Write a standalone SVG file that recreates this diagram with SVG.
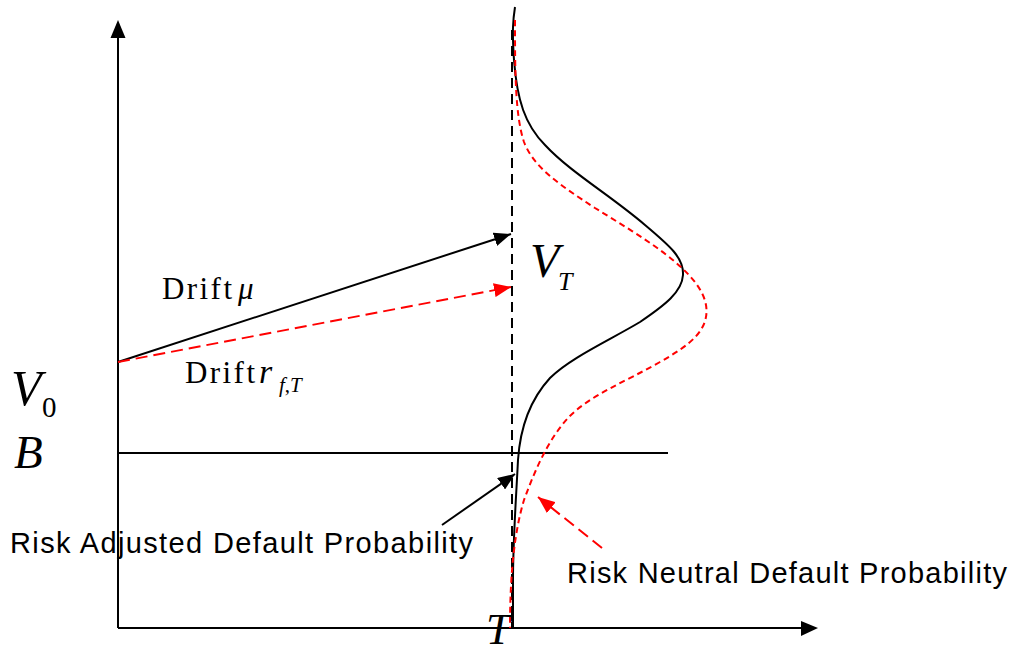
<svg xmlns="http://www.w3.org/2000/svg" width="1015" height="648" viewBox="0 0 1015 648">
<style>
.ax{stroke:#000;stroke-width:2;fill:none}
.blk{stroke:#000;stroke-width:2;fill:none}
.red{stroke:#f00;stroke-width:2;fill:none}
.serif{font-family:"Liberation Serif","Times New Roman",serif;fill:#000}
.it{font-style:italic}
.sans{font-family:"Liberation Sans",Arial,sans-serif;fill:#000}
</style>
<defs>
<marker id="ab" markerUnits="userSpaceOnUse" markerWidth="18" markerHeight="14" refX="17" refY="7" orient="auto"><path d="M0,0 L17,7 L0,14 z" fill="#000"/></marker>
<marker id="ar" markerUnits="userSpaceOnUse" markerWidth="18" markerHeight="14" refX="17" refY="7" orient="auto"><path d="M0,0 L17,7 L0,14 z" fill="#f00"/></marker>
</defs>
<g id="axes">
<line class="ax" x1="118" y1="628" x2="118" y2="38"/>
<path d="M110.5,38 L118,20 L125.5,38 z" fill="#000"/>
<line class="ax" x1="118" y1="628" x2="801" y2="628"/>
<path d="M801,621 L818,628 L801,636 z" fill="#000"/>
</g>
<g id="connectors">
<line class="blk" x1="118" y1="453" x2="668" y2="453"/>
<line x1="512" y1="30" x2="512" y2="628" stroke="#000" stroke-width="2" stroke-dasharray="10,6"/>
<line class="blk" x1="118" y1="362" x2="511" y2="234" marker-end="url(#ab)"/>
<line class="red" x1="118" y1="362" x2="511" y2="287" stroke-dasharray="12,6" marker-end="url(#ar)"/>
<line class="blk" x1="442" y1="525" x2="515" y2="474" marker-end="url(#ab)"/>
<line class="red" x1="602" y1="548" x2="538" y2="497" stroke-dasharray="12,6" marker-end="url(#ar)"/>
</g>
<g id="black-density">
<path class="blk" d="M515,7 C513,20 512,30 514,60 C517,100 525,125 545,145 C570,172 610,195 645,225 C670,246 684,258 683,275 C682,292 665,305 640,322 C610,340 570,358 550,378 C528,402 520,430 518,460 C516,500 513,540 513,580 L513,628"/>
</g>
<g id="red-density">
<path class="red" stroke-dasharray="6,4" d="M515,20 C515,70 515,115 524,142 C534,168 560,185 595,208 C640,236 700,270 706,305 C710,330 690,345 660,362 C625,382 590,395 568,418 C548,440 535,470 524,500 C515,530 510,570 510,628"/>
</g>
<g id="labels">
<text class="serif" x="162" y="299" font-size="31" textLength="70" lengthAdjust="spacing">Drift</text>
<text class="serif it" x="238" y="299" font-size="31">μ</text>
<text class="serif" x="185" y="383" font-size="31" textLength="70" lengthAdjust="spacing">Drift</text>
<text class="serif it" x="259" y="383" font-size="34">r</text>
<text class="serif" x="279" y="392" font-size="21"><tspan class="it">f</tspan>,<tspan class="it">T</tspan></text>
<text class="serif it" x="530" y="277" font-size="48">V</text>
<text class="serif it" x="558" y="290" font-size="26">T</text>
<text class="serif it" x="11" y="405" font-size="50">V</text>
<text class="serif" x="42" y="417" font-size="29">0</text>
<text class="serif it" x="14" y="468" font-size="47">B</text>
<text class="serif it" x="486" y="644" font-size="44">T</text>
<text class="sans" x="10" y="553" font-size="29" textLength="463" lengthAdjust="spacing">Risk Adjusted Default Probability</text>
<text class="sans" x="567" y="583" font-size="29" textLength="440" lengthAdjust="spacing">Risk Neutral Default Probability</text>
</g>
</svg>
